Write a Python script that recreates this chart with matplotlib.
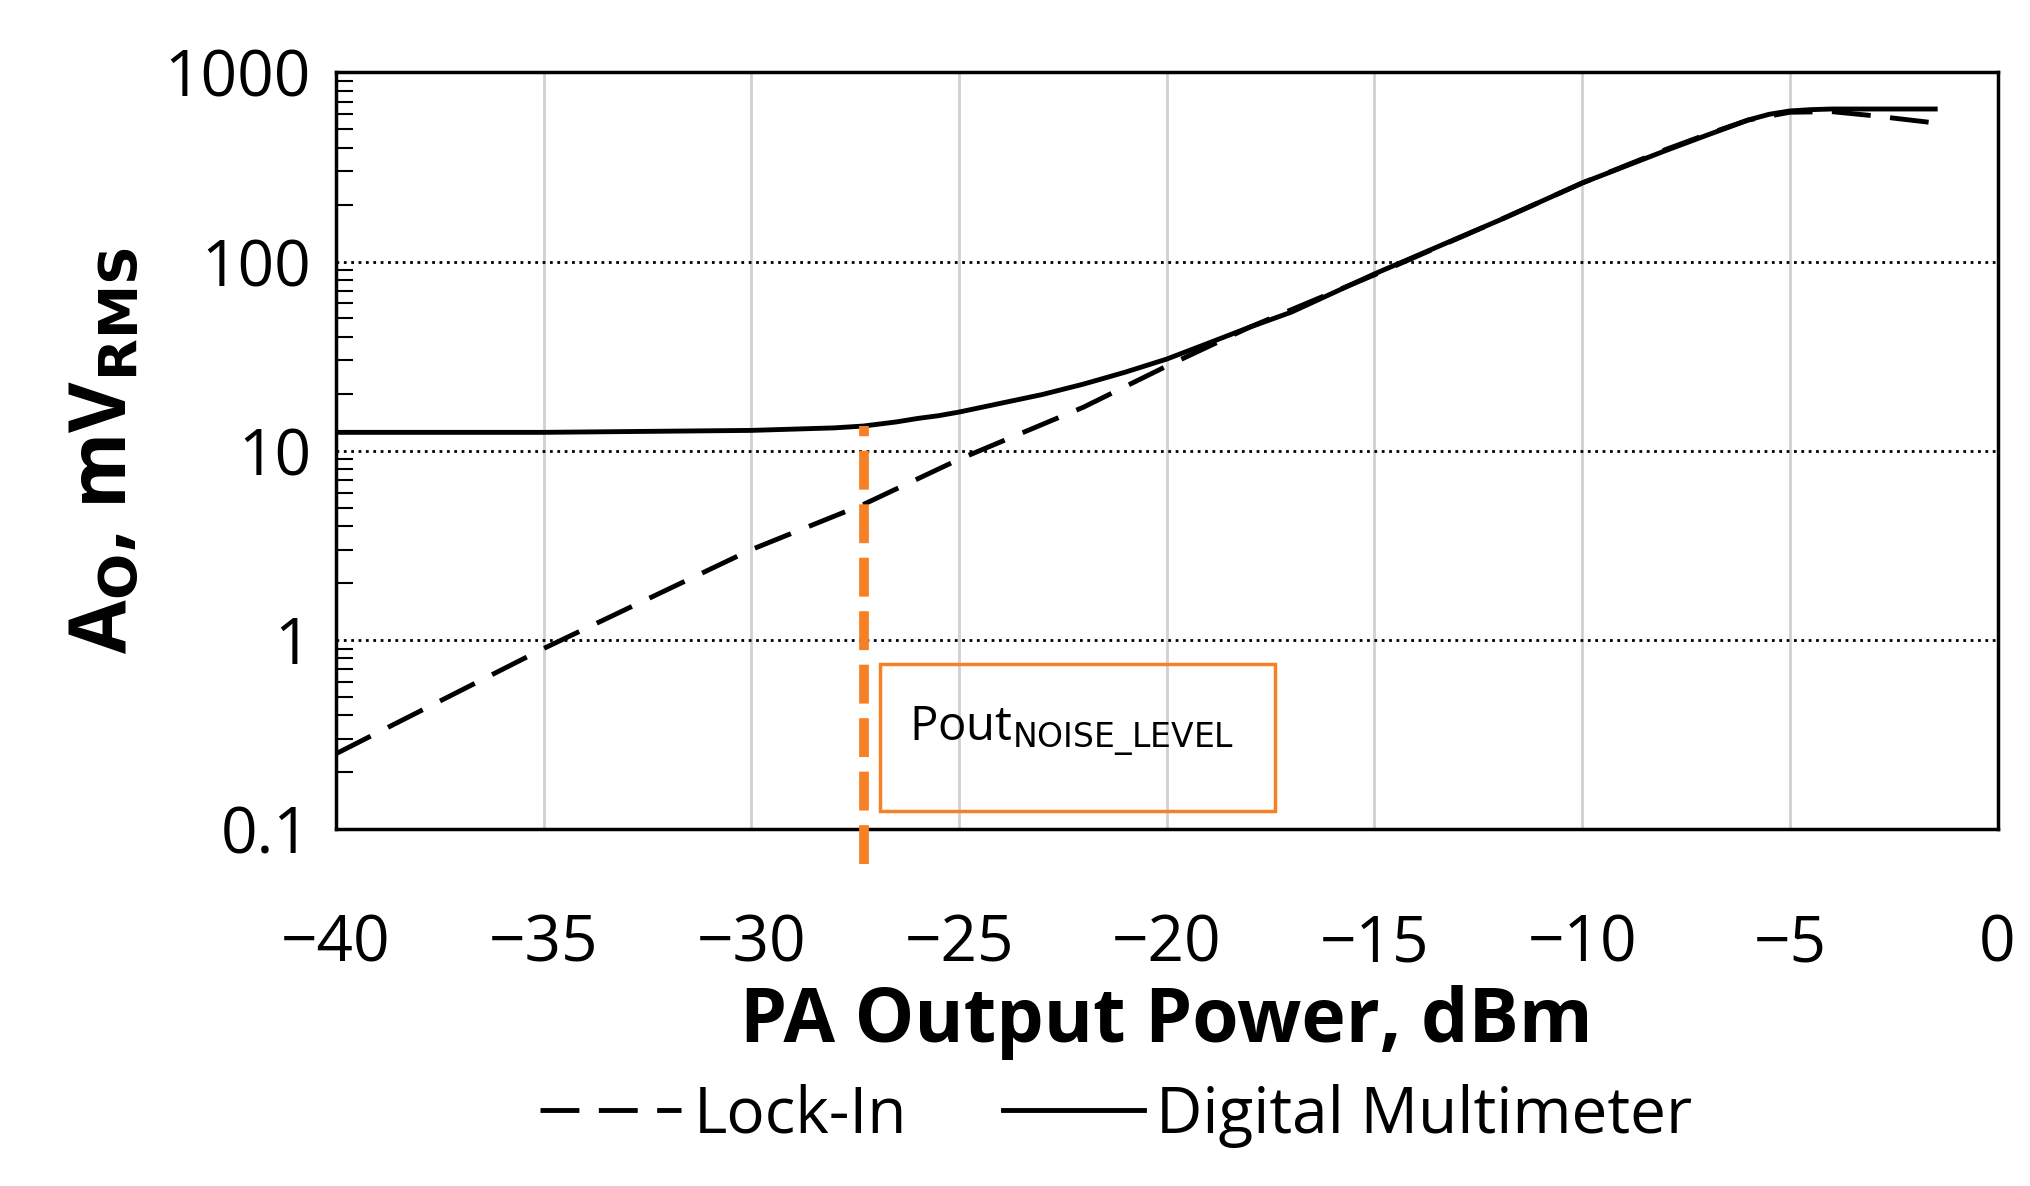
import matplotlib.pyplot as plt
from matplotlib.patches import Rectangle

plt.rcParams['font.family'] = ['Open Sans', 'DejaVu Sans']

# Lock-In amplifier readings
lock_x = [-40, -35, -30, -27.3, -25, -22, -20, -18, -15, -12, -10, -8, -7, -6, -5, -4, -3, -1.5]
lock_y = [0.25, 0.9, 3.0, 5.2, 9.0, 17, 28, 45, 85, 165, 260, 390, 470, 560, 615, 620, 590, 540]

# Digital multimeter readings
dmm_x = [-40, -35, -30, -28, -27.3, -26.5, -26, -25.5, -25, -24, -23, -22, -21, -20, -19, -18, -17,
         -15, -12, -10, -8, -7, -6.5, -6, -5.5, -5, -4.5, -4, -3, -1.5]
dmm_y = [12.5, 12.5, 12.8, 13.2, 13.5, 14.2, 14.8, 15.3, 16.0, 17.8, 19.8, 22.5, 26, 30.5, 37, 45, 54,
         86, 165, 260, 385, 465, 510, 560, 600, 625, 635, 640, 640, 640]

noise_x = -27.3
noise_y = 13.5

fig = plt.figure(figsize=(20.3, 11.86), dpi=100)
ax = fig.add_axes([0.1655, 0.301, 0.8185, 0.638])

ax.plot(lock_x, lock_y, color='black', lw=3.5, ls=(0, (8, 4)), label='Lock-In')
ax.plot(dmm_x, dmm_y, color='black', lw=3.5, label='Digital Multimeter')

ax.set_yscale('log')
ax.set_xlim(-40, 0)
ax.set_ylim(0.1, 1000)
ax.set_xticks(range(-40, 1, 5))
ax.set_xticklabels(['\u2212%d' % -v if v else '0' for v in range(-40, 1, 5)])
ax.set_yticks([0.1, 1, 10, 100, 1000])
ax.set_yticklabels(['0.1', '1', '10', '100', '1000'])
ax.tick_params(axis='x', labelsize=46, length=0, pad=60)
ax.tick_params(axis='y', labelsize=46, length=0, pad=18)
ax.tick_params(axis='y', which='minor', direction='in', length=12, width=1.5)

for v in range(-35, 0, 5):
    ax.axvline(v, color='#d0d0d0', lw=2, zorder=0)
for v in [1, 10, 100]:
    ax.axhline(v, color='black', lw=2, ls=':', zorder=0)
for s in ax.spines.values():
    s.set_linewidth(2.5)

# noise level marker
ax.plot([noise_x, noise_x], [0.065, noise_y], color='#f58025', lw=7, ls=(0, (4, 1.5)), clip_on=False, zorder=3)
ax.add_patch(Rectangle((-26.9, 0.125), 9.5, 0.62, fill=False, edgecolor='#f58025', lw=2.5,
                       transform=ax.transData, zorder=4))
ax.text(-26.2, 0.33, 'Pout$_{\\mathrm{NOISE\\_LEVEL}}$', fontsize=34, va='center', ha='left')

ax.set_xlabel('PA Output Power, dBm', fontsize=54, fontweight='bold', labelpad=6)
ax.set_ylabel('A$_\\mathbf{O}$, mV$_\\mathbf{RMS}$', fontsize=56, fontweight='bold', labelpad=14)

fig.legend(loc='lower center', ncol=2, frameon=False, fontsize=46, handlelength=2.2, handletextpad=0.2,
           bbox_to_anchor=(0.55, 0.0), columnspacing=1.5, borderaxespad=0.2)

fig.savefig('out.png')
